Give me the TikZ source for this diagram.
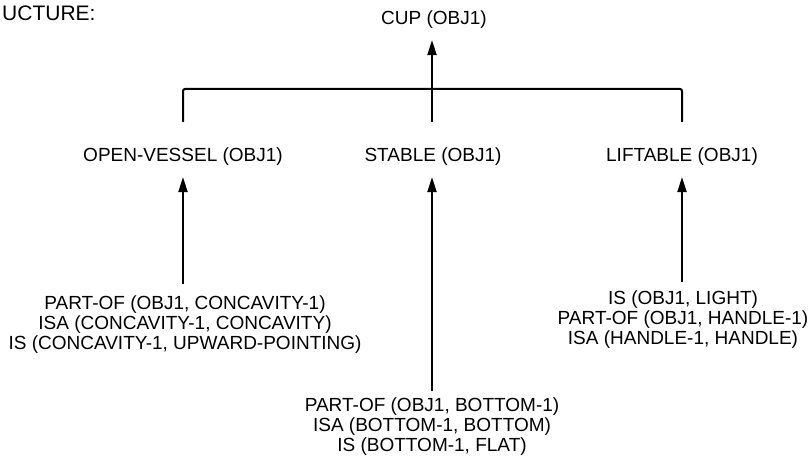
\documentclass[tikz,border=0pt]{standalone}
\usepackage{fontspec}
\setmainfont{Liberation Sans}
\usetikzlibrary{arrows.meta,calc}
\tikzset{
  lbl/.style={inner sep=0pt, font=\fontsize{19}{20}\selectfont, align=center},
  conn/.style={line width=2pt, line cap=butt},
  arr/.style={conn, -{Triangle[length=15pt,width=9pt]}},
}
\begin{document}
\begin{tikzpicture}[x=1pt,y=1pt]
\useasboundingbox (0,0) rectangle (810,463);
\node[lbl, anchor=west, font=\fontsize{21}{22}\selectfont] (title) at (2,450) {UCTURE:};
\node[lbl] (cup) at (434,443) {CUP (OBJ1)};
\node[lbl] (ov) at (183,306) {OPEN-VESSEL (OBJ1)};
\node[lbl] (st) at (433,306) {STABLE (OBJ1)};
\node[lbl] (lf) at (682,306) {LIFTABLE (OBJ1)};
\node[lbl] (ovf) at (185,138) {PART-OF (OBJ1, CONCAVITY-1)\\ISA (CONCAVITY-1, CONCAVITY)\\IS (CONCAVITY-1, UPWARD-POINTING)};
\node[lbl] (stf) at (432,36) {PART-OF (OBJ1, BOTTOM-1)\\ISA (BOTTOM-1, BOTTOM)\\IS (BOTTOM-1, FLAT)};
\node[lbl] (lff) at (683,143) {IS (OBJ1, LIGHT)\\PART-OF (OBJ1, HANDLE-1)\\ISA (HANDLE-1, HANDLE)};
\coordinate (bar) at (432,374);
\coordinate (ovtop) at (183,341);
\coordinate (sttop) at (432,341);
\coordinate (lftop) at (682,341);
\draw[conn, rounded corners=2pt] (ovtop) -- (ovtop |- bar) -- (lftop |- bar) -- (lftop);
\draw[conn] (sttop) -- (sttop |- bar);
\draw[arr, shorten >=11pt] (sttop |- bar) -- (cup.south -| bar);
\draw[arr, shorten <=12pt, shorten >=11pt] (ovf.north -| ov.south) -- (ov.south);
\draw[arr, shorten <=7pt, shorten >=11pt] (stf.north -| bar) -- (st.south -| bar);
\draw[arr, shorten <=9pt, shorten >=11pt] (lff.north -| lf.south) -- (lf.south);
\end{tikzpicture}
\end{document}
